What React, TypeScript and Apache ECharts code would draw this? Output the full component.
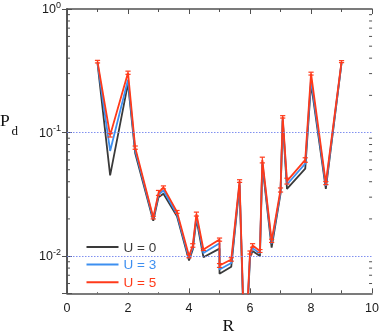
import React, { useEffect, useRef } from "react";
import * as echarts from "echarts";

const R = [1, 1.414, 2, 2.236, 2.828, 3, 3.162, 3.606, 4, 4.123, 4.243, 4.472, 5, 5, 5.385, 5.657, 5.831, 6, 6.083, 6.325, 6.403, 6.708, 7, 7.071, 7.211, 7.81, 8, 8.485, 9];
const pU0 = [0.365, 0.045, 0.25, 0.068, 0.0193, 0.03, 0.032, 0.021, 0.0092, 0.0113, 0.0199, 0.0098, 0.0115, 0.0072, 0.0082, 0.0375, 0.0013, 0.0098, 0.011, 0.01, 0.055, 0.0117, 0.032, 0.125, 0.035, 0.051, 0.25, 0.035, 0.365];
const pU3 = [0.37, 0.071, 0.268, 0.072, 0.02, 0.0315, 0.034, 0.0218, 0.0096, 0.0118, 0.021, 0.0106, 0.0127, 0.0078, 0.0088, 0.039, 0.0014, 0.0103, 0.0116, 0.0105, 0.058, 0.0126, 0.033, 0.13, 0.038, 0.056, 0.27, 0.037, 0.37];
const pU5 = [0.375, 0.095, 0.305, 0.0755, 0.0205, 0.0325, 0.036, 0.0228, 0.01, 0.0122, 0.0219, 0.0113, 0.0136, 0.0084, 0.0094, 0.0405, 0.0015, 0.0107, 0.0122, 0.011, 0.06, 0.0133, 0.0343, 0.134, 0.0405, 0.06, 0.3, 0.039, 0.375];
const errU5 = [0.009, 0.003, 0.009, 0.0023, 0.0005, 0.0015, 0.001, 0.0006, 0.0003, 0.0004, 0.0008, 0.0002, 0.0004, 0.0003, 0.0003, 0.001, 0.0001, 0.0003, 0.0004, 0.0003, 0.0032, 0.0004, 0.0013, 0.003, 0.0022, 0.0025, 0.008, 0.0011, 0.007];
const seriesNames = ["U = 0", "U = 3", "U = 5"];
const seriesColors = ["#3a3a3a", "#3d8ff0", "#ff3a1a"];
const yMinorTicks = [0.006, 0.007, 0.008, 0.009, 0.02, 0.03, 0.04, 0.05, 0.06, 0.07, 0.08, 0.09, 0.2, 0.3, 0.4, 0.5, 0.6, 0.7, 0.8, 0.9];
const refLines = [0.1, 0.01];
const X_MIN = 0, X_MAX = 10, X_INTERVAL = 2;
const Y_MIN = 0.005, Y_MAX = 1;

const SANS = "'Liberation Sans', Arial, sans-serif";
const SERIF = "'Liberation Serif', 'Times New Roman', serif";
const FRAME = "#505050";

export default function App() {
  const ref = useRef<HTMLDivElement>(null);
  useEffect(() => {
    document.body.style.margin = "0";
    const chart = echarts.init(ref.current!, null, { renderer: "svg" });
    const axisLine = { show: true, lineStyle: { color: FRAME, width: 1.6 } };
    const xCommon = {
      type: "value" as const, min: X_MIN, max: X_MAX, interval: X_INTERVAL,
      axisLine, splitLine: { show: false },
      axisTick: { show: true, inside: true, length: 5, lineStyle: { color: FRAME, width: 1 } },
      minorTick: { show: true, splitNumber: 2, length: 3, lineStyle: { color: FRAME, width: 1 } },
      minorSplitLine: { show: false },
    };
    const yCommon = {
      type: "log" as const, logBase: 10, min: Y_MIN, max: Y_MAX,
      axisLine, splitLine: { show: false },
      axisTick: { show: true, inside: true, length: 5, lineStyle: { color: FRAME, width: 1 } },
    };
    const lineSeries = [pU0, pU3, pU5].map((vals, k) => ({
      type: "line", name: seriesNames[k], xAxisIndex: 0, yAxisIndex: 0,
      data: R.map((r, i) => [r, vals[i]]),
      symbol: "none", clip: true,
      lineStyle: { color: seriesColors[k], width: 1.8 },
      itemStyle: { color: seriesColors[k] },
      z: 2 + k,
      ...(k === 0
        ? {
            markLine: {
              silent: true, symbol: "none", label: { show: false },
              lineStyle: { color: "#7283ee", type: [1.5, 1.5], width: 0.9 },
              data: refLines.map((v) => ({ yAxis: v })),
            },
          }
        : {}),
    }));
    const option: any = {
      animation: false,
      grid: { left: 67, right: 9, top: 7.5, bottom: 41.7, containLabel: false },
      xAxis: [
        { ...xCommon, position: "bottom",
          axisLabel: { show: true, margin: 8, fontSize: 12.5, color: "#1a1a1a", fontFamily: SANS } },
        { ...xCommon, position: "top", axisLabel: { show: false } },
      ],
      yAxis: [
        { ...yCommon, position: "left",
          axisLabel: {
            show: true, margin: 6,
            formatter: (v: number) => {
              const l = Math.log10(v);
              const e = Math.round(l);
              if (Math.abs(l - e) > 0.01) return "";
              return "{b|10}{s|" + e + "}";
            },
            rich: {
              b: { fontSize: 12.5, lineHeight: 18, color: "#1a1a1a", fontFamily: SANS },
              s: { fontSize: 9, lineHeight: 9, verticalAlign: "top", color: "#1a1a1a", fontFamily: SANS },
            },
          } },
        { ...yCommon, position: "right", axisLabel: { show: false } },
      ],
      legend: {
        orient: "vertical", left: 78, top: 237, backgroundColor: "#fff",
        padding: [3, 6, 3, 8.5], itemWidth: 32, itemHeight: 2, icon: "rect", itemGap: 3.6,
        selectedMode: false,
        textStyle: { fontSize: 13.5, lineHeight: 13, fontFamily: SANS },
        data: seriesNames.map((n, k) => ({ name: n, textStyle: { color: seriesColors[k] } })),
      },
      series: [
        ...lineSeries,
        {
          type: "custom", name: "err", xAxisIndex: 0, yAxisIndex: 0, z: 6,
          data: R.map((r, i) => [r, pU5[i] - errU5[i], pU5[i] + errU5[i]]),
          encode: { x: 0, y: [1, 2] },
          renderItem: (params: any, api: any) => {
            const x = api.value(0), lo = api.value(1), hi = api.value(2);
            if (lo < Y_MIN) return null;
            const a = api.coord([x, hi]);
            const b = api.coord([x, lo]);
            const w = 2.6;
            const st = { stroke: seriesColors[2], lineWidth: 1.2 };
            return {
              type: "group",
              children: [
                { type: "line", shape: { x1: a[0], y1: a[1], x2: b[0], y2: b[1] }, style: st },
                { type: "line", shape: { x1: a[0] - w, y1: a[1], x2: a[0] + w, y2: a[1] }, style: st },
                { type: "line", shape: { x1: b[0] - w, y1: b[1], x2: b[0] + w, y2: b[1] }, style: st },
              ],
            };
          },
        },
        {
          type: "custom", name: "minorTicks", xAxisIndex: 0, yAxisIndex: 0, z: 7, silent: true,
          data: yMinorTicks.map((v) => [X_MIN, v]),
          encode: { x: 0, y: 1 },
          renderItem: (params: any, api: any) => {
            const y = api.coord([X_MIN, api.value(1)])[1];
            const cs = params.coordSys;
            const st = { stroke: FRAME, lineWidth: 1 };
            return {
              type: "group",
              children: [
                { type: "line", shape: { x1: cs.x, y1: y, x2: cs.x + 3, y2: y }, style: st },
                { type: "line", shape: { x1: cs.x + cs.width - 3, y1: y, x2: cs.x + cs.width, y2: y }, style: st },
              ],
            };
          },
        },
      ],
      graphic: [
        { type: "text", left: 0, top: 111, style: { text: "P", font: "17.5px " + SERIF, fill: "#111" } },
        { type: "text", left: 11.5, top: 124, style: { text: "d", font: "13px " + SERIF, fill: "#111" } },
        { type: "text", left: 222.5, top: 316, style: { text: "R", font: "17.5px " + SERIF, lineHeight: 16, fill: "#111" } },
      ],
    };
    chart.setOption(option);
    return () => chart.dispose();
  }, []);
  return <div ref={ref} style={{ position: "fixed", left: 0, top: 0, width: 382, height: 335 }} />;
}
